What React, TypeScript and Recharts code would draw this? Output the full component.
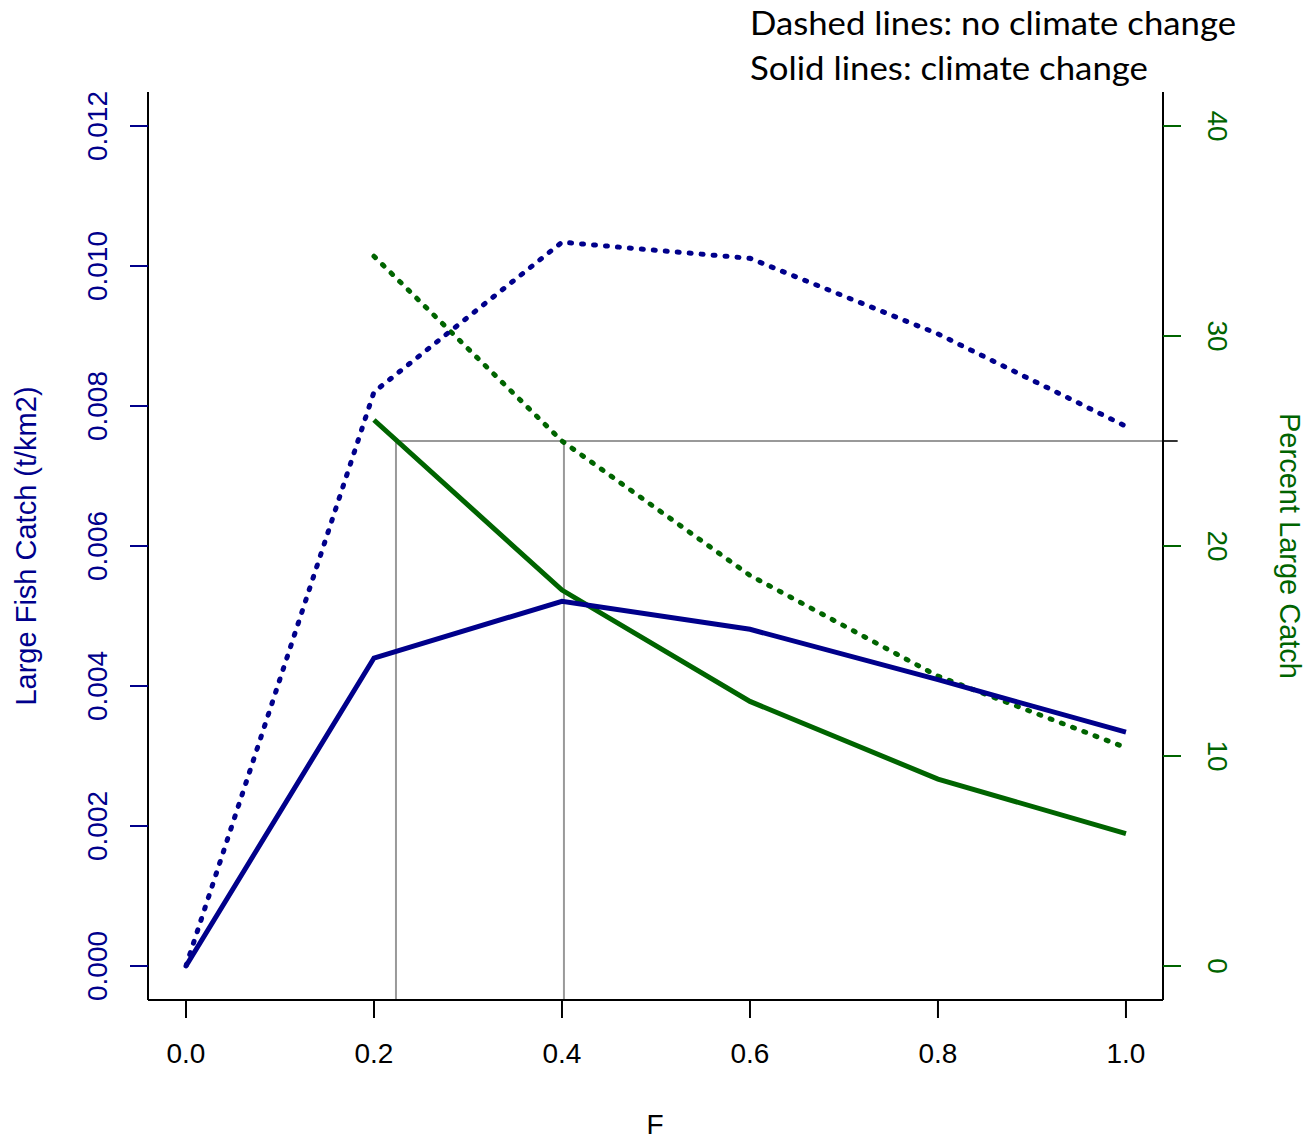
import { ComposedChart, Line, XAxis, YAxis, ReferenceLine } from 'recharts'

// fishing mortality
const F_VALUES = [0, 0.2, 0.4, 0.6, 0.8, 1.0]
// large fish catch (t/km2), left axis
const CATCH_NO_CC = [0, 0.0082, 0.01034, 0.01011, 0.00903, 0.00771]
const CATCH_CC = [0, 0.0044, 0.00521, 0.00481, 0.00409, 0.00334]
// percent large catch, right axis
const PCT_NO_CC = [null, 33.8, 25.0, 18.6, 13.8, 10.4]
const PCT_CC = [null, 26.0, 17.9, 12.6, 8.9, 6.3]

const X_TICKS = [0, 0.2, 0.4, 0.6, 0.8, 1.0]
const LEFT_TICKS = [0, 0.002, 0.004, 0.006, 0.008, 0.01, 0.012]
const RIGHT_TICKS = [0, 10, 20, 30, 40]

// reference lines at 25% large catch
const REF_PCT = 25
const REF_F_CC = 0.2234
const REF_F_NO_CC = 0.4021

const BLUE = '#00008B'
const GREEN = '#006400'
const GREY = '#999999'
const FONT = '"Liberation Sans", Arial, Helvetica, sans-serif'

const data = F_VALUES.map((f, i) => ({
  F: f,
  catchNoCC: CATCH_NO_CC[i],
  catchCC: CATCH_CC[i],
  pctNoCC: PCT_NO_CC[i],
  pctCC: PCT_CC[i],
}))

const X_DOMAIN: [number, number] = [-0.0404, 1.0394]
const LEFT_DOMAIN: [number, number] = [-0.000486, 0.012486]
const RIGHT_DOMAIN: [number, number] = [-1.619, 41.619]

function LeftTick(props: any) {
  const { y, payload } = props
  const x = 107
  return (
    <text x={x} y={y} transform={`rotate(-90, ${x}, ${y})`} textAnchor="middle" fill={BLUE} fontSize={28} fontFamily={FONT}>
      {payload.value.toFixed(3)}
    </text>
  )
}

function RightTick(props: any) {
  const { y, payload } = props
  const x = 1208
  return (
    <text x={x} y={y} transform={`rotate(90, ${x}, ${y})`} textAnchor="middle" fill={GREEN} fontSize={28} fontFamily={FONT}>
      {payload.value}
    </text>
  )
}

function BottomTick(props: any) {
  const { x, payload } = props
  return (
    <text x={x} y={1063} textAnchor="middle" fill="#000" fontSize={28} fontFamily={FONT}>
      {payload.value.toFixed(1)}
    </text>
  )
}

export default function App() {
  return (
    <div style={{ position: 'absolute', left: 0, top: 0, width: 1307, height: 1139, background: '#fff' }}>
      <ComposedChart
        width={1307}
        height={1139}
        data={data}
        margin={{ top: 92, right: 44, bottom: 59, left: 48 }}
      >
        <XAxis
          dataKey="F"
          type="number"
          domain={X_DOMAIN}
          ticks={X_TICKS}
          height={80}
          tickSize={18}
          tickLine={{ stroke: '#000', strokeWidth: 2 }}
          axisLine={{ stroke: '#000', strokeWidth: 2 }}
          tick={<BottomTick />}
        />
        <XAxis
          xAxisId="top"
          dataKey="F"
          type="number"
          orientation="top"
          domain={X_DOMAIN}
          height={0}
          tick={false}
          tickLine={false}
          axisLine={{ stroke: '#000', strokeWidth: 2 }}
        />
        <YAxis
          yAxisId="left"
          type="number"
          domain={LEFT_DOMAIN}
          ticks={LEFT_TICKS}
          width={100}
          tickSize={18}
          tickLine={{ stroke: BLUE, strokeWidth: 2 }}
          axisLine={{ stroke: '#000', strokeWidth: 2 }}
          tick={<LeftTick />}
        />
        <YAxis
          yAxisId="right"
          orientation="right"
          type="number"
          domain={RIGHT_DOMAIN}
          ticks={RIGHT_TICKS}
          width={100}
          tickSize={18}
          tickLine={{ stroke: GREEN, strokeWidth: 2 }}
          axisLine={{ stroke: '#000', strokeWidth: 2 }}
          tick={<RightTick />}
        />

        <ReferenceLine
          yAxisId="right"
          segment={[{ x: REF_F_CC, y: REF_PCT }, { x: X_DOMAIN[1], y: REF_PCT }]}
          stroke={GREY}
          strokeWidth={2}
          ifOverflow="visible"
        />
        <ReferenceLine
          yAxisId="right"
          segment={[{ x: X_DOMAIN[1], y: REF_PCT }, { x: 1.055, y: REF_PCT }]}
          stroke="#333"
          strokeWidth={2}
          ifOverflow="visible"
        />
        <ReferenceLine
          yAxisId="right"
          segment={[{ x: REF_F_CC, y: REF_PCT }, { x: REF_F_CC, y: RIGHT_DOMAIN[0] }]}
          stroke={GREY}
          strokeWidth={2}
          ifOverflow="visible"
        />
        <ReferenceLine
          yAxisId="right"
          segment={[{ x: REF_F_NO_CC, y: REF_PCT }, { x: REF_F_NO_CC, y: RIGHT_DOMAIN[0] }]}
          stroke={GREY}
          strokeWidth={2}
          ifOverflow="visible"
        />

        <Line yAxisId="right" dataKey="pctNoCC" stroke={GREEN} strokeWidth={5} strokeDasharray="2 10" strokeLinecap="round" dot={false} activeDot={false} isAnimationActive={false} />
        <Line yAxisId="right" dataKey="pctCC" stroke={GREEN} strokeWidth={5} dot={false} activeDot={false} isAnimationActive={false} />
        <Line yAxisId="left" dataKey="catchNoCC" stroke={BLUE} strokeWidth={5} strokeDasharray="2 10" strokeLinecap="round" dot={false} activeDot={false} isAnimationActive={false} />
        <Line yAxisId="left" dataKey="catchCC" stroke={BLUE} strokeWidth={5} dot={false} activeDot={false} isAnimationActive={false} />
      </ComposedChart>

      {/* titles and axis labels */}
      <svg width={1307} height={1139} style={{ position: 'absolute', left: 0, top: 0, pointerEvents: 'none' }}>
        <text x={750} y={35} fontSize={33} fontFamily='Lato, "Open Sans", sans-serif' fill="#000" textLength={486} lengthAdjust="spacingAndGlyphs">
          Dashed lines: no climate change
        </text>
        <text x={750} y={80} fontSize={33} fontFamily='Lato, "Open Sans", sans-serif' fill="#000" textLength={398} lengthAdjust="spacingAndGlyphs">
          Solid lines: climate change
        </text>
        <text x={36} y={546} transform="rotate(-90, 36, 546)" textAnchor="middle" fontSize={29} fontFamily={FONT} fill={BLUE}>
          Large Fish Catch (t/km2)
        </text>
        <text x={1280} y={546} transform="rotate(90, 1280, 546)" textAnchor="middle" fontSize={29} fontFamily={FONT} fill={GREEN}>
          Percent Large Catch
        </text>
        <text x={655} y={1134} textAnchor="middle" fontSize={28} fontFamily={FONT} fill="#000">
          F
        </text>
      </svg>
    </div>
  )
}
